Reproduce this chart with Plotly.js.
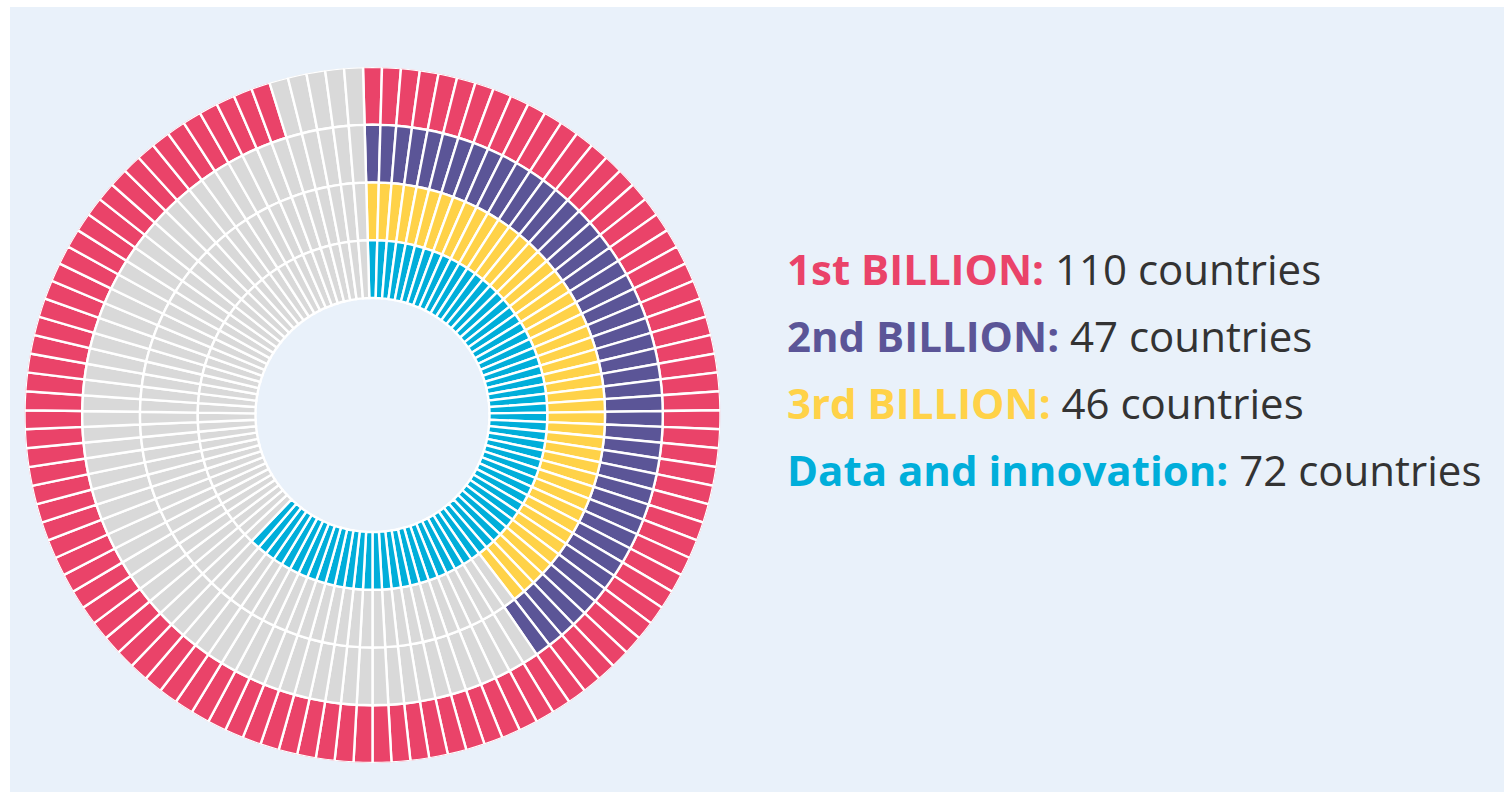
<!DOCTYPE html>
<html>
<head>
<meta charset="utf-8">
<script src="https://cdn.plot.ly/plotly-3.0.1.min.js"></script>
<style>html,body{margin:0;padding:0;background:#fff;}#chart{width:1504px;height:792px;}</style>
</head>
<body>
<div id="chart"></div>
<script>
// ---- data ----
const categories = ['1st BILLION', '2nd BILLION', '3rd BILLION', 'Data and innovation'];
const countries = [110, 47, 46, 72];
const totalSegments = 115;
const colors = ['#EA4369', '#5B5597', '#FFD248', '#00AEDA'];
const emptyColor = '#D9D9D9';

// ---- layout geometry ----
const W = 1504, H = 792;
const cx = 372.5, cy = 415, R = 348;
const ringInner = 117, ringThick = 57.75;
// rings from outside (1st) to inside (data)
const traces = [];
const step = 360 / totalSegments;
const thetas = [], widths = [];
for (let i = 0; i < totalSegments; i++) { thetas.push(i * step); widths.push(step); }
categories.forEach((cat, k) => {
  const ringIndex = 3 - k; // 0 = innermost
  const cols = thetas.map((t, i) => i < countries[k] ? colors[k] : emptyColor);
  traces.push({
    type: 'barpolar',
    name: cat,
    theta: thetas,
    width: widths,
    r: thetas.map(() => ringThick),
    base: thetas.map(() => ringInner + ringIndex * ringThick),
    marker: { color: cols, line: { color: '#ffffff', width: 2.4 } },
    hoverinfo: 'skip',
    showlegend: false
  });
});

const annY = [288, 355, 422, 489];
const annotations = categories.map((cat, k) => ({
  xref: 'paper', yref: 'paper',
  x: 785 / W, y: 1 - annY[k] / H,
  xanchor: 'left', yanchor: 'bottom',
  showarrow: false,
  align: 'left',
  text: '<b><span style="color:' + colors[k] + '">' + cat + ':</span></b> ' + countries[k] + ' countries',
  font: { family: 'Open Sans, sans-serif', size: 42, color: '#333333' },
  yshift: -11
}));

const layout = {
  width: W, height: H,
  margin: { l: 0, r: 0, t: 0, b: 0 },
  paper_bgcolor: '#ffffff',
  plot_bgcolor: 'rgba(0,0,0,0)',
  shapes: [{
    type: 'rect', xref: 'paper', yref: 'paper', layer: 'below',
    x0: 10 / W, x1: 1, y0: 0, y1: 1 - 7 / H,
    fillcolor: '#E9F1FA', line: { width: 0 }
  }],
  polar: {
    domain: { x: [(cx - R) / W, (cx + R) / W], y: [1 - (cy + R) / H, 1 - (cy - R) / H] },
    bgcolor: 'rgba(0,0,0,0)',
    bargap: 0,
    hole: 0,
    radialaxis: { visible: false, range: [0, R] },
    angularaxis: { visible: false, rotation: 90, direction: 'clockwise' }
  },
  annotations: annotations
};

Plotly.newPlot('chart', traces, layout, { displayModeBar: false, staticPlot: true });
</script>
</body>
</html>
